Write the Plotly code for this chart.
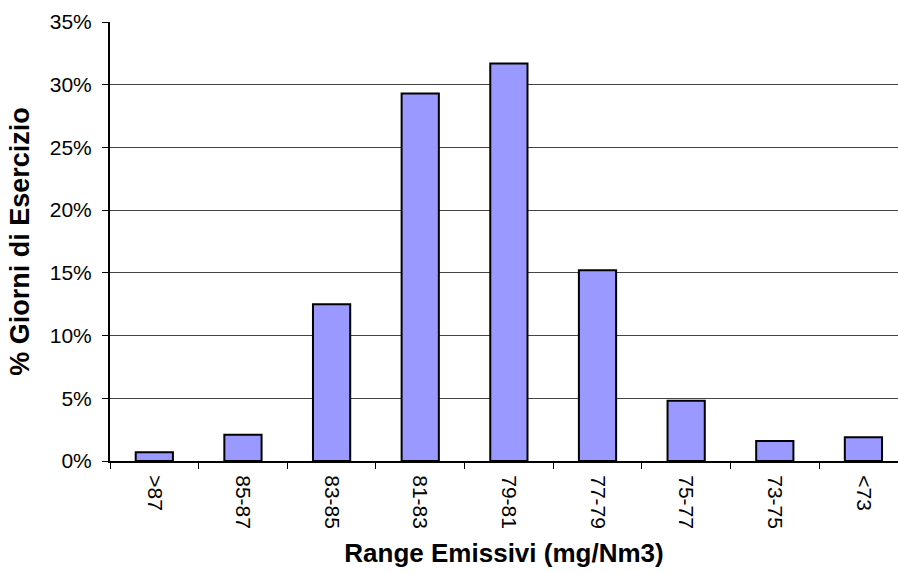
import plotly.graph_objects as go

categories = [">87", "85-87", "83-85", "81-83", "79-81", "77-79", "75-77", "73-75", "<73"]
values = [0.7, 2.1, 12.5, 29.3, 31.7, 15.2, 4.8, 1.6, 1.9]
y_ticks = [0, 5, 10, 15, 20, 25, 30, 35]
y_labels = [f"{v}%" for v in y_ticks]

fig = go.Figure(go.Bar(
    x=categories, y=values,
    marker=dict(color="#9999FF", line=dict(color="black", width=2)),
    width=0.42,
))

fig.update_layout(
    width=898, height=573,
    margin=dict(l=110, r=0, t=22, b=112),
    paper_bgcolor="white", plot_bgcolor="white",
    font=dict(family="Liberation Sans, Arial, sans-serif", size=21, color="black"),
    showlegend=False,
)
fig.update_xaxes(
    type="category", range=[-0.5, 8.39], tickangle=90, tickson="boundaries",
    ticks="outside", ticklen=6, tickcolor="black", ticklabelstandoff=8,
    showline=True, linecolor="black", linewidth=2,
    showgrid=False, automargin=False,
    title=dict(text="<b>Range Emissivi (mg/Nm3)</b>", font=dict(size=26), standoff=16),
)
fig.update_yaxes(
    range=[0, 35], tickvals=y_ticks, ticktext=y_labels,
    ticks="outside", ticklen=6, tickcolor="black", ticklabelstandoff=6,
    showline=True, linecolor="black", linewidth=2,
    showgrid=True, gridcolor="#444444", gridwidth=1,
    zeroline=False, automargin=False,
    title=dict(text="<b>% Giorni di Esercizio</b>", font=dict(size=27), standoff=12),
)

fig.write_html("out.html")
